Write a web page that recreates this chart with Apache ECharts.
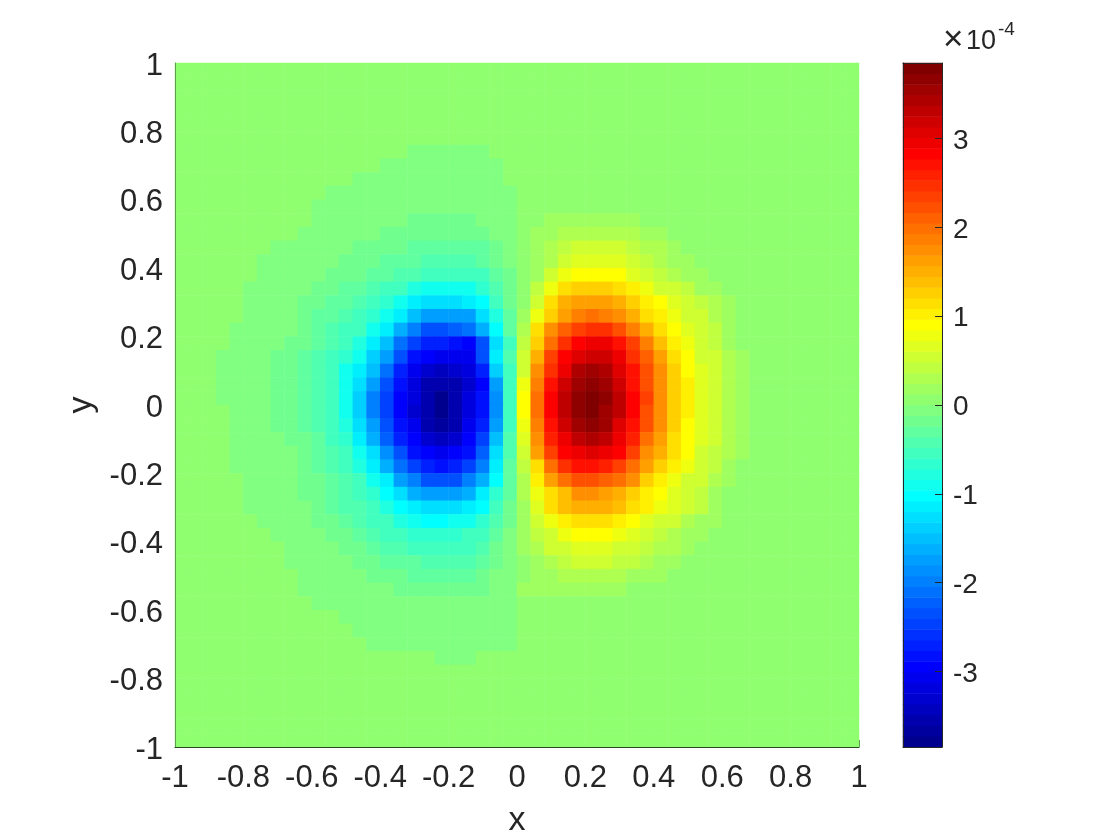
<!DOCTYPE html>
<html>
<head>
<meta charset="utf-8">
<script src="https://cdn.jsdelivr.net/npm/echarts@6/dist/echarts.min.js"></script>
<style>html,body{margin:0;padding:0;background:#fff}#c{width:1120px;height:840px}</style>
</head>
<body>
<div id="c"></div>
<script>
// Axis ticks
const xEdgeTicks = [1];
const colorbarTicks = [-3,-2,-1,0,1,2,3];
const colorLimit = 3.85;
const background = 1;
// Field values in units of 1e-5. Rows run top to bottom, columns left to right; omitted cells are background.
const r06 = [1,1,1,1,1,1,1,1,1,1,1,1,1,1,1,1,1,-1,-1,-1,-1,-1,-1];
const r07 = [1,1,1,1,1,1,1,1,1,1,1,1,1,1,1,-1,-1,-1,-1,-1,-1,-1,-1,-1];
const r08 = [1,1,1,1,1,1,1,1,1,1,1,1,1,-1,-1,-1,-1,-1,-1,-1,-1,-1,-1,-1];
const r09 = [1,1,1,1,1,1,1,1,1,1,1,-1,-1,-1,-1,-1,-1,-1,-1,-1,-1,-1,-1,-1,-1];
const r10 = [1,1,1,1,1,1,1,1,1,1,-1,-1,-1,-1,-1,-1,-1,-1,-1,-1,-1,-1,-1,-1,-1];
const r11 = [1,1,1,1,1,1,1,1,1,1,-1,-1,-1,-1,-1,-1,-1,-2,-2,-2,-2,-2,-1,-1,-1,1,1,2,2,2,2,2,2,2];
const r12 = [1,1,1,1,1,1,1,1,1,-1,-1,-1,-1,-1,-1,-2,-2,-2,-2,-2,-2,-2,-2,-1,-1,1,2,2,3,3,3,3,3,3,2,2];
const r13 = [1,1,1,1,1,1,1,-1,-1,-1,-1,-1,-1,-2,-2,-2,-2,-3,-3,-3,-3,-3,-3,-2,-1,1,2,3,4,5,5,5,5,4,3,3,2];
const r14 = [1,1,1,1,1,1,-1,-1,-1,-1,-1,-1,-2,-2,-2,-3,-3,-3,-4,-4,-4,-4,-3,-2,-1,1,2,3,5,7,7,7,7,5,4,3,2,2];
const r15 = [1,1,1,1,1,1,-1,-1,-1,-1,-1,-2,-2,-2,-3,-3,-4,-4,-5,-6,-6,-6,-5,-3,-2,1,2,5,8,9,9,9,9,7,6,4,3,2,2];
const r16 = [1,1,1,1,1,-1,-1,-1,-1,-1,-2,-2,-3,-3,-4,-5,-6,-8,-9,-9,-9,-9,-7,-4,-2,1,4,8,11,13,13,13,11,10,8,6,5,4,2,2];
const r17 = [1,1,1,1,1,-1,-1,-1,-1,-2,-2,-3,-3,-4,-5,-7,-9,-11,-13,-13,-13,-12,-10,-6,-2,1,5,12,15,16,16,16,15,13,10,9,7,5,4,3,2];
const r18 = [1,1,1,1,1,-1,-1,-1,-1,-2,-3,-3,-4,-5,-7,-9,-12,-15,-18,-18,-18,-17,-13,-8,-3,2,8,13,16,19,20,19,17,15,12,10,8,6,5,3,2];
const r19 = [1,1,1,1,-1,-1,-1,-1,-1,-2,-3,-4,-5,-6,-9,-12,-16,-20,-23,-23,-22,-21,-16,-10,-3,3,11,17,21,24,25,25,22,19,15,11,9,7,6,4,2];
const r20 = [1,1,1,1,-1,-1,-1,-1,-2,-2,-3,-4,-6,-8,-12,-15,-21,-25,-27,-27,-28,-29,-24,-13,-5,4,13,20,25,28,29,29,27,23,19,14,10,8,6,4,2];
const r21 = [1,1,1,-1,-1,-1,-1,-2,-2,-3,-4,-5,-7,-9,-14,-18,-24,-28,-30,-31,-31,-31,-24,-11,-4,5,15,23,28,31,32,32,29,25,21,16,12,9,6,5,3,2];
const r22 = [1,1,1,-1,-1,-1,-1,-2,-2,-3,-4,-5,-9,-12,-15,-21,-27,-31,-33,-34,-33,-32,-27,-14,-5,6,17,25,30,34,35,34,31,27,22,17,13,9,7,5,3,2];
const r23 = [1,1,1,-1,-1,-1,-1,-2,-2,-3,-4,-6,-9,-13,-17,-23,-28,-32,-35,-36,-35,-33,-29,-17,-5,8,19,27,32,36,37,36,32,27,22,18,13,10,7,5,3,2];
const r24 = [1,1,1,-1,-1,-1,-1,-2,-2,-3,-4,-6,-9,-14,-20,-25,-29,-32,-36,-38,-36,-32,-28,-19,-5,9,20,28,33,37,38,37,33,28,23,18,13,10,7,5,3,2];
const r25 = [1,1,1,1,-1,-1,-1,-2,-2,-3,-4,-6,-9,-14,-20,-25,-29,-33,-36,-38,-36,-32,-28,-19,-5,9,20,28,33,37,38,36,33,28,22,17,13,10,7,5,3,2];
const r26 = [1,1,1,1,-1,-1,-1,-2,-2,-3,-4,-6,-8,-13,-18,-24,-28,-31,-35,-37,-35,-31,-27,-17,-5,8,19,27,32,36,37,35,31,27,22,17,13,9,7,5,3,2];
const r27 = [1,1,1,1,-1,-1,-1,-1,-2,-2,-3,-5,-7,-11,-16,-22,-27,-30,-33,-34,-33,-30,-25,-15,-4,7,18,26,30,33,34,33,30,26,20,16,12,9,7,5,3,2];
const r28 = [1,1,1,1,-1,-1,-1,-1,-1,-2,-3,-4,-6,-9,-13,-19,-24,-28,-30,-31,-30,-28,-22,-13,-4,6,16,24,28,30,31,30,28,23,18,15,11,9,6,4,3,2];
const r29 = [1,1,1,1,-1,-1,-1,-1,-1,-2,-3,-4,-5,-8,-12,-16,-21,-25,-27,-28,-27,-25,-20,-11,-3,4,12,20,25,27,27,26,24,20,16,13,10,8,5,4,2];
const r30 = [1,1,1,1,1,-1,-1,-1,-1,-2,-2,-3,-4,-6,-9,-12,-17,-20,-23,-23,-23,-20,-16,-10,-3,3,10,16,20,22,22,21,20,17,13,10,8,6,5,3,2];
const r31 = [1,1,1,1,1,-1,-1,-1,-1,-2,-2,-3,-4,-5,-7,-10,-13,-16,-18,-18,-18,-16,-12,-7,-3,3,8,11,14,17,17,16,15,13,10,9,7,5,4,2];
const r32 = [1,1,1,1,1,-1,-1,-1,-1,-1,-2,-3,-4,-4,-6,-8,-10,-12,-13,-13,-13,-12,-10,-6,-2,2,7,11,14,15,15,15,14,12,10,8,7,5,4,2];
const r33 = [1,1,1,1,1,1,-1,-1,-1,-1,-2,-2,-3,-4,-5,-6,-8,-9,-10,-10,-9,-9,-7,-4,-2,2,5,8,10,11,11,11,10,9,7,6,5,3,2,2];
const r34 = [1,1,1,1,1,1,1,-1,-1,-1,-1,-2,-2,-3,-4,-5,-6,-7,-7,-7,-7,-6,-5,-3,-1,2,4,6,8,9,9,9,8,7,5,4,3,2,2];
const r35 = [1,1,1,1,1,1,1,1,-1,-1,-1,-1,-2,-2,-3,-4,-4,-5,-5,-5,-5,-5,-4,-2,-1,2,3,5,6,7,7,7,6,5,4,3,3,2];
const r36 = [1,1,1,1,1,1,1,1,-1,-1,-1,-1,-1,-2,-2,-3,-3,-3,-4,-4,-4,-4,-3,-2,-1,1,2,3,4,5,5,5,4,4,3,2,2];
const r37 = [1,1,1,1,1,1,1,1,1,-1,-1,-1,-1,-1,-2,-2,-2,-3,-3,-3,-3,-3,-2,-1,-1,1,2,2,3,3,3,3,3,2,2,2];
const r38 = [1,1,1,1,1,1,1,1,1,-1,-1,-1,-1,-1,-1,-1,-2,-2,-2,-2,-2,-2,-2,-1,-1,2,2,2,2,2,2,2,2];
const r39 = [1,1,1,1,1,1,1,1,1,1,-1,-1,-1,-1,-1,-1,-1,-1,-1,-1,-1,-1,-1,-1,-1];
const r40 = [1,1,1,1,1,1,1,1,1,1,1,1,-1,-1,-1,-1,-1,-1,-1,-1,-1,-1,-1,-1,-1];
const r41 = [1,1,1,1,1,1,1,1,1,1,1,1,1,-1,-1,-1,-1,-1,-1,-1,-1,-1,-1,-1,-1];
const r42 = [1,1,1,1,1,1,1,1,1,1,1,1,1,1,-1,-1,-1,-1,-1,-1,-1,-1,-1,-1,-1];
const r43 = [1,1,1,1,1,1,1,1,1,1,1,1,1,1,1,1,1,1,1,-1,-1,-1];

const fieldRows = {6:r06,7:r07,8:r08,9:r09,10:r10,11:r11,12:r12,13:r13,14:r14,15:r15,16:r16,17:r17,18:r18,19:r19,20:r20,21:r21,22:r22,23:r23,24:r24,25:r25,26:r26,27:r27,28:r28,29:r29,30:r30,31:r31,32:r32,33:r33,34:r34,35:r35,36:r36,37:r37,38:r38,39:r39,40:r40,41:r41,42:r42,43:r43};
const gridSize = 50;

function jet(k, n) {
  const t = (k + 1) / n; // MATLAB jet(n)
  const c = v => Math.round(255 * Math.max(0, Math.min(1, v)));
  const r = Math.min(4 * t - 1.5, -4 * t + 4.5);
  const g = Math.min(4 * t - 0.5, -4 * t + 3.5);
  const b = Math.min(4 * t + 0.5, -4 * t + 2.5);
  return 'rgb(' + c(r) + ',' + c(g) + ',' + c(b) + ')';
}
const nLevels = 64;
const unit = 10; // data units per colourbar unit
const step = 2 * colorLimit * unit / nLevels;
const pieces = [];
const barData = [];
for (let k = 0; k < nLevels; k++) {
  const lo = -colorLimit * unit + k * step;
  pieces.push({gte: lo - (k === 0 ? 5 : 0), lt: lo + step + (k === nLevels - 1 ? 5 : 0), color: jet(k, nLevels)});
  barData.push([0, k, lo + step / 2]);
}
const heat = [];
const bandNames = [];
for (let i = 0; i < gridSize; i++) bandNames.push(String(i));
for (let j = 0; j < gridSize; j++) {
  const row = fieldRows[j] || [];
  for (let i = 0; i < gridSize; i++) {
    heat.push([i, gridSize - 1 - j, i < row.length ? row[i] : background]);
  }
}
const ink = '#262626';
const fontFamily = '"Liberation Sans", Arial, Helvetica, sans-serif';
const fmt = v => String(Math.round(v * 10) / 10);
const fmtLow = v => '{t|' + fmt(v) + '}';
const line = {show: true, onZero: false, lineStyle: {color: ink, width: 1}};
const label = {color: ink, fontFamily: fontFamily, fontSize: 31, formatter: fmt, showMinLabel: true, showMaxLabel: true, hideOverlap: false};
const hiddenCat = (g, extra) => Object.assign({type: 'category', gridIndex: g, axisLabel: {show: false}, axisTick: {show: false}, axisLine: {show: false}, splitLine: {show: false}}, extra);

const chart = echarts.init(document.getElementById('c'), null, {renderer: 'canvas'});
chart.setOption({
  animation: false,
  backgroundColor: '#ffffff',
  tooltip: {show: false},
  grid: [
    {left: 175, top: 63, width: 684, height: 684, outerBoundsMode: 'none'},
    {left: 903, top: 63, width: 39, height: 684, outerBoundsMode: 'none'}
  ],
  xAxis: [
    hiddenCat(0, {data: bandNames}),
    {type: 'value', gridIndex: 0, position: 'bottom', min: -1, max: 1, interval: 0.2, z: 10,
     axisLine: {show: true, onZero: false, lineStyle: {color: '#2b4a22', width: 1}},
     axisTick: {show: true, inside: true, length: 7, customValues: xEdgeTicks, lineStyle: {color: '#5f9e4e', width: 1}},
     splitLine: {show: false},
     axisLabel: Object.assign({}, label, {margin: 16}),
     name: 'x', nameLocation: 'middle', nameGap: 57,
     nameTextStyle: {color: ink, fontFamily: fontFamily, fontSize: 34}},
    hiddenCat(1, {data: ['0'], z: 10, axisLine: line}),
    hiddenCat(1, {data: ['0'], z: 10, axisLine: line, position: 'top'})
  ],
  yAxis: [
    hiddenCat(0, {data: bandNames}),
    {type: 'value', gridIndex: 0, position: 'left', min: -1, max: 1, interval: 0.2, z: 10,
     axisLine: {show: true, onZero: false, lineStyle: {color: '#5f9e4e', width: 1}},
     axisTick: {show: false}, splitLine: {show: false},
     axisLabel: Object.assign({}, label, {margin: 12, formatter: fmtLow,
       rich: {t: {color: ink, fontFamily: fontFamily, fontSize: 31, padding: [6, 0, 0, 0]}}}),
     name: 'y', nameLocation: 'middle', nameGap: 75, nameRotate: 90,
     nameTextStyle: {color: ink, fontFamily: fontFamily, fontSize: 34}},
    hiddenCat(1, {data: barData.map(d => String(d[1]))}),
    {type: 'value', gridIndex: 1, position: 'right', min: -colorLimit, max: colorLimit, z: 10,
     axisLine: line,
     axisTick: {show: true, inside: true, length: 7, lineStyle: {color: ink, width: 1}, customValues: colorbarTicks},
     splitLine: {show: false},
     axisLabel: {color: ink, fontFamily: fontFamily, fontSize: 28, margin: 11, customValues: colorbarTicks, formatter: fmtLow,
       rich: {t: {color: ink, fontFamily: fontFamily, fontSize: 28, padding: [5, 0, 0, 0]}}}},
    hiddenCat(1, {data: barData.map(d => String(d[1])), z: 10, axisLine: line, position: 'left'})
  ],
  visualMap: {type: 'piecewise', show: false, dimension: 2, seriesIndex: [0, 1], pieces: pieces},
  series: [
    {type: 'heatmap', xAxisIndex: 0, yAxisIndex: 0, data: heat, progressive: 0, animation: false, silent: true},
    {type: 'heatmap', xAxisIndex: 2, yAxisIndex: 2, data: barData, progressive: 0, animation: false, silent: true}
  ],
  graphic: [
    {type: 'text', left: 943, top: 23, style: {text: '×', fill: ink, font: '35px "Liberation Sans", Arial, sans-serif'}},
    {type: 'text', left: 966, top: 28, style: {text: '10', fill: ink, font: '27px "Liberation Sans", Arial, sans-serif'}},
    {type: 'text', left: 998, top: 20, style: {text: '-4', fill: ink, font: '19px "Liberation Sans", Arial, sans-serif'}}
  ]
});
</script>
</body>
</html>
